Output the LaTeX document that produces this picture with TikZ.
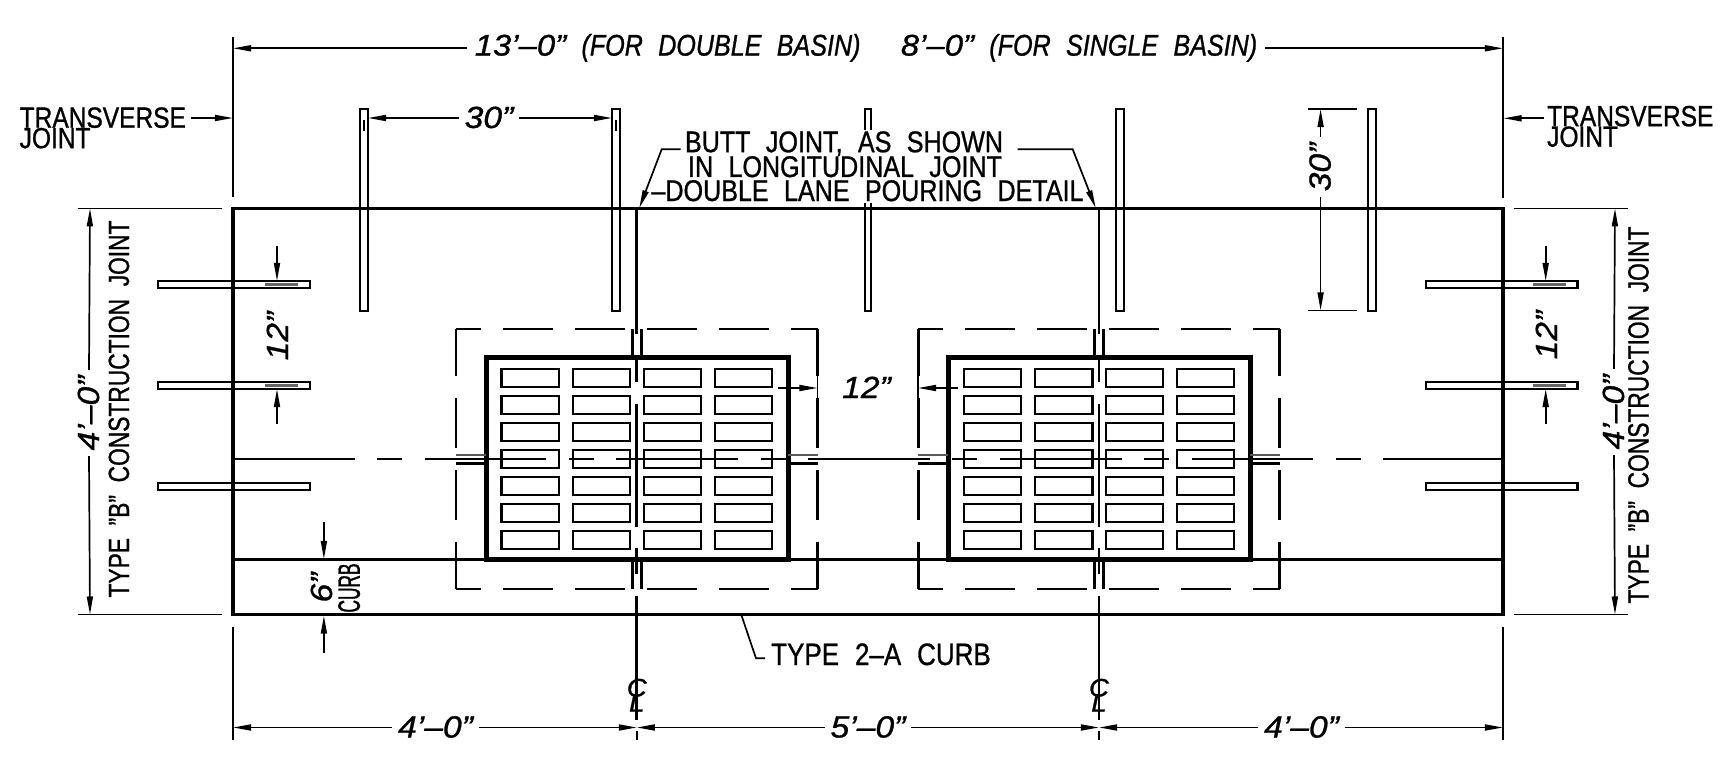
\documentclass[tikz,border=0pt]{standalone}
\usepackage{fontspec}
\usetikzlibrary{arrows.meta}
\setmainfont{Liberation Sans}[FakeStretch=0.84,WordSpace=2.2,FakeBold=0.9]
\newfontfamily\numfont{Liberation Sans}[Ligatures=TeX,FakeStretch=1.1,FakeBold=0.9]
\newfontfamily\typefont{Liberation Sans}[Ligatures=TeX,FakeStretch=0.78,WordSpace=2.0,FakeBold=0.9]
\newfontfamily\curbfont{Liberation Sans}[FakeStretch=0.56,FakeBold=1.1]
\begin{document}
\begin{tikzpicture}[x=0.01cm,y=-0.01cm]
        \tikzstyle{dowel} = [line width=0.021cm, draw=black]
        \tikzstyle{dimline} = [line width=0.017cm, -{Stealth[length=1.8mm,width=0.6mm,inset=0pt]}]
        \tikzstyle{thinline} = [line width=0.017cm]
        \tikzstyle{slabline} = [line width=0.032cm]
        \tikzstyle{basinline} = [line width=0.05cm]
        \tikzstyle{slotbox} = [line width=0.022cm]
        \tikzstyle{dashline} = [line width=0.029cm, dash pattern=on 0.5cm off 0.22cm]
        \tikzstyle{cline} = [line width=0.029cm]
        \tikzstyle{cadtext} = [font=\fontsize{8.3}{8.3}\selectfont, text height=0.2cm, text depth=0pt, inner sep=0pt]
        \tikzstyle{notetext} = [cadtext, font=\fontsize{8.5}{8.5}\selectfont]
        \tikzstyle{dimtext} = [cadtext, font=\itshape\fontsize{8.5}{8.5}\selectfont, inner xsep=0.05cm]
        \tikzstyle{numtext} = [cadtext, font=\numfont\itshape\fontsize{8.7}{8.7}\selectfont, inner xsep=0.05cm]
        \useasboundingbox (0,0) rectangle (1729,761);

        % slab outline, curb, centre joint
        \draw[slabline] (233,208.4) rectangle (1503,614.5);
        \draw[cline, line width=0.03cm] (233,560) -- (1503,560);
        \draw[cline, dash pattern=on 1.216cm off 0.225cm on 0.25cm off 0.225cm] (233,459) -- (1503,459);

        % the two basins
        \foreach \cx in {636.8,1099} {
          \draw[cline, dash pattern=on 1.26cm off 0.22cm on 0.26cm off 0.21cm on 1.23cm off 0.21cm on 0.26cm off 0.22cm on 1.25cm off 1cm] (\cx,208.4) -- (\cx,720);
          \draw[thinline] (\cx,731.5) -- (\cx,740);
          \draw[basinline] (\cx-150.8,357.7) rectangle (\cx+151.2,560);
          \foreach \col in {-135.4,-63.8,6.8,77.8} {
            \foreach \row in {369.3,396.3,423.3,450.3,477.3,504.3,531.3} {
              \draw[slotbox] (\cx+\col,\row) rectangle (\cx+\col+57.2,\row+17.6);
            }
          }
          \draw[dashline, dash phase=0.25cm] (\cx-180.8,329) -- (\cx+180.7,329);
          \draw[dashline, dash phase=0.25cm] (\cx-180.8,589) -- (\cx+180.7,589);
          \draw[dashline, dash phase=0.03cm] (\cx-180.8,329) -- (\cx-180.8,589);
          \draw[dashline, dash phase=0.03cm] (\cx+180.7,329) -- (\cx+180.7,589);
          % double lines through the dashed box
          \draw[cline] (\cx-4.2,329) -- (\cx-4.2,357.7) (\cx+4.4,329) -- (\cx+4.4,357.7);
          \draw[cline] (\cx-4.2,560) -- (\cx-4.2,589) (\cx+4.4,560) -- (\cx+4.4,589);
          \draw[cline, draw=black!65] (\cx-180.8,455) -- (\cx-150.8,455) (\cx+151.2,455) -- (\cx+180.7,455);
          \draw[cline, line width=0.03cm] (\cx-180.8,463.3) -- (\cx-150.8,463.3) (\cx+151.2,463.3) -- (\cx+180.7,463.3);
        }

        % dowels along the top
        \foreach \dx in {360.4,612.4,1116.4,1368.4} {
          \draw[dowel] (\dx,108.6) rectangle (\dx+7.2,311);
        }
        \draw[dowel] (865,130) -- (865,108.6) -- (871.4,108.6) -- (871.4,130);
        \draw[dowel] (865,203) -- (865,311) -- (871.4,311) -- (871.4,203);
        \draw[thinline] (364,120) -- (364,130.7);
        \draw[thinline] (616,120) -- (616,130.7);

        % dowels at the sides
        \foreach \dx in {158,1425.8} {
          \foreach \dy in {281,381.8,482.8} {
            \draw[dowel] (\dx,\dy) rectangle (\dx+151.7,\dy+7);
          }
          \draw[cline, draw=black!60] (\dx+107,284.4) -- (\dx+140,284.4);
          \draw[cline, draw=black!60] (\dx+107,385.2) -- (\dx+140,385.2);
        }

        % extension lines
        \draw[thinline] (233,36.7) -- (233,197);
        \draw[thinline] (1503,36.7) -- (1503,198);
        \draw[thinline] (233,626.7) -- (233,740);
        \draw[thinline] (1503,626.7) -- (1503,740);
        \draw[thinline] (78,208.4) -- (222,208.4);
        \draw[thinline] (78,614.5) -- (222,614.5);
        \draw[thinline] (1514,208.4) -- (1628,208.4);
        \draw[thinline] (1514,614.5) -- (1628,614.5);
        \draw[thinline] (1308.4,109) -- (1357.4,109);
        \draw[thinline] (1308.4,310.4) -- (1357.4,310.4);
        \draw[thinline] (817.5,375.7) -- (817.5,398);
        \draw[thinline] (918,375.7) -- (918,398);

        % overall width
        \coordinate (topl) at (233,48.3);
        \coordinate (topr) at (1503,48.3);
        \node[dimtext, inner xsep=0.07cm] (topdim) at (866,45.6) {{\numfont 13'--0"} (FOR DOUBLE BASIN)\hspace{0.25cm} {\numfont 8'--0"} (FOR SINGLE BASIN)};
        \draw[dimline] (topdim.west |- topl) to (topl);
        \draw[dimline] (topdim.east |- topr) to (topr);

        % transverse joint labels
        \node[cadtext, anchor=west] (transl) at (19,117.7) {TRANSVERSE};
        \node[cadtext, anchor=west] (jointl) at (19,138.2) {JOINT};
        \node[cadtext, anchor=west] (transr) at (1546.5,116.2) {TRANSVERSE};
        \node[cadtext, anchor=west] (jointr) at (1546.5,136.7) {JOINT};
        \coordinate (transla) at (191,118);
        \coordinate (translb) at (233,118);
        \coordinate (transra) at (1543.5,118.3);
        \coordinate (transrb) at (1503.5,118.3);
        \draw[dimline] (transla) to (translb);
        \draw[dimline] (transra) to (transrb);

        % dowel spacing, top
        \coordinate (d1) at (368,118);
        \coordinate (d2) at (612,118);
        \node[numtext] (dim30) at (489,118) {30"};
        \draw[dimline] (dim30.west) to (d1);
        \draw[dimline] (dim30.east) to (d2);

        % dowel length
        \coordinate (l1) at (1320.6,109);
        \coordinate (l2) at (1320.6,310.4);
        \node[numtext, rotate=90] (len30) at (1320.6,167) {30"};
        \draw[dimline] (len30.east) to (l1);
        \draw[dimline] (len30.west) to (l2);

        % slab depth, both sides
        \coordinate (lt) at (90,208.4);
        \coordinate (lb) at (90,614.5);
        \node[numtext, rotate=90] (depthl) at (89,413) {4'--0"};
        \draw[dimline] (depthl.east) to (lt);
        \draw[dimline] (depthl.west) to (lb);
        \node[cadtext, font=\typefont\fontsize{8.3}{8.3}\selectfont, rotate=90] (typel) at (119,409) {TYPE "B" CONSTRUCTION JOINT};
        \coordinate (rt) at (1615,208.4);
        \coordinate (rb) at (1615,614.5);
        \node[numtext, rotate=90] (depthr) at (1614,412) {4'--0"};
        \draw[dimline] (depthr.east) to (rt);
        \draw[dimline] (depthr.west) to (rb);
        \node[cadtext, font=\typefont\fontsize{8.3}{8.3}\selectfont, rotate=90] (typer) at (1638.5,415) {TYPE "B" CONSTRUCTION JOINT};

        % side dowel spacing
        \foreach \ax/\nm in {277/a,1545.7/b} {
          \coordinate (s1\nm) at (\ax,246);
          \coordinate (s2\nm) at (\ax,281);
          \coordinate (s3\nm) at (\ax,424);
          \coordinate (s4\nm) at (\ax,389);
          \draw[dimline] (s1\nm) to (s2\nm);
          \draw[dimline] (s3\nm) to (s4\nm);
        }
        \node[numtext, rotate=90] (side12l) at (278,336) {12"};
        \node[numtext, rotate=90] (side12r) at (1547,335) {12"};

        % gap between the basins
        \coordinate (g1) at (778,388);
        \coordinate (g2) at (817.5,388);
        \coordinate (g3) at (957.5,388);
        \coordinate (g4) at (918,388);
        \draw[dimline] (g1) to (g2);
        \draw[dimline] (g3) to (g4);
        \node[numtext] (gap12) at (866.5,388) {12"};

        % curb
        \coordinate (c1) at (323.9,521.7);
        \coordinate (c2) at (323.9,559);
        \coordinate (c3) at (323.9,653);
        \coordinate (c4) at (323.9,615.7);
        \draw[dimline] (c1) to (c2);
        \draw[dimline] (c3) to (c4);
        \node[numtext, rotate=90] (curb6) at (322,587.5) {6"};
        \node[cadtext, rotate=90, font=\curbfont\fontsize{8.8}{8.8}\selectfont, text height=0.22cm] (curbw) at (348.8,588) {CURB};

        % butt joint note
        \node[notetext] (butta) at (844,142.2) {BUTT JOINT, AS SHOWN};
        \node[notetext] (buttb) at (845,167) {IN LONGITUDINAL JOINT};
        \node[notetext] (buttc) at (867.5,191) {--DOUBLE LANE POURING DETAIL};
        \coordinate (kl0) at (680.7,149.3);
        \coordinate (kl1) at (661.7,149.3);
        \coordinate (kl2) at (639.3,208);
        \coordinate (kr0) at (1017.7,149.3);
        \coordinate (kr1) at (1072.7,149.3);
        \coordinate (kr2) at (1095.7,208);
        \draw[dimline] (kl0) -- (kl1) -- (kl2);
        \draw[dimline] (kr0) -- (kr1) -- (kr2);

        % curb note
        \node[notetext, font=\fontsize{8.8}{8.8}\selectfont] (curbnote) at (881,655) {TYPE 2--A CURB};
        \coordinate (n1) at (741.7,616);
        \coordinate (n2) at (756,658.3);
        \coordinate (n3) at (765,658.3);
        \draw[thinline] (n1) -- (n2) -- (n3);

        % centre line marks
        \foreach \cx/\nm in {636.8/a,1099/b} {
          \node[cadtext, font=\numfont\itshape\fontsize{7.2}{7.2}\selectfont, text height=0.17cm] (cc\nm) at (\cx,688) {C};
          \node[cadtext, font=\numfont\itshape\fontsize{7.2}{7.2}\selectfont, text height=0.17cm] (ll\nm) at (\cx,703) {L};
        }

        % bottom dimensions
        \coordinate (b1) at (233,727.5);
        \coordinate (b2) at (636.8,727.5);
        \coordinate (b3) at (1099,727.5);
        \coordinate (b4) at (1503,727.5);
        \node[numtext] (bot1) at (435.5,727.5) {4'--0"};
        \node[numtext] (bot2) at (868,727.5) {5'--0"};
        \node[numtext] (bot3) at (1301.5,727.5) {4'--0"};
        \draw[dimline] (bot1.west) to (b1);
        \draw[dimline] (bot1.east) to (b2);
        \draw[dimline] (bot2.west) to (b2);
        \draw[dimline] (bot2.east) to (b3);
        \draw[dimline] (bot3.west) to (b3);
        \draw[dimline] (bot3.east) to (b4);
      \end{tikzpicture}
\end{document}
